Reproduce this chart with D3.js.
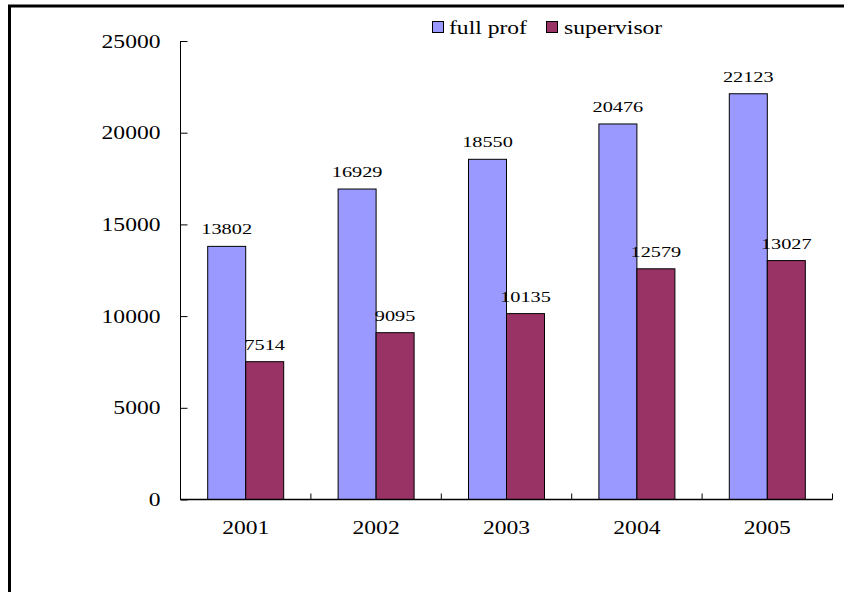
<!DOCTYPE html>
<html>
<head>
<meta charset="utf-8">
<script src="https://cdn.jsdelivr.net/npm/d3@7"></script>
<style>
  html, body { margin: 0; padding: 0; background: #fff; }
  svg { display: block; }
  text { font-family: "Liberation Serif", "Times New Roman", serif; fill: #000; }
</style>
</head>
<body>
<svg id="chart" width="844" height="592"></svg>
<script>
// Data
const years = ["2001", "2002", "2003", "2004", "2005"];
const fullProf = [13802, 16929, 18550, 20476, 22123];
const supervisor = [7514, 9095, 10135, 12579, 13027];
const seriesNames = ["full prof", "supervisor"];
const seriesColors = ["#9999FF", "#993366"];
const yTicks = [0, 5000, 10000, 15000, 20000, 25000];

const svg = d3.select("#chart");
const W = 844, H = 592;
const STRETCH = 1.31; // wide-set lettering

// Place a horizontally widened text at (x, y)
function wideText(sel, x, y, anchor) {
  return sel.attr("x", 0).attr("y", 0)
    .attr("text-anchor", anchor)
    .attr("transform", (d, i) => `translate(${x(d, i)},${y(d, i)}) scale(${STRETCH},1)`);
}

// Outer frame (top and left edges)
svg.append("line").attr("x1", 8).attr("x2", W).attr("y1", 6).attr("y2", 6)
  .attr("stroke", "#000").attr("stroke-width", 3);
svg.append("line").attr("x1", 9.5).attr("x2", 9.5).attr("y1", 5).attr("y2", H)
  .attr("stroke", "#000").attr("stroke-width", 3);

const plot = { left: 180.5, right: 832.5, top: 41, bottom: 499.5 };

const x = d3.scaleBand().domain(years).range([plot.left, plot.right]).paddingInner(0).paddingOuter(0);
const y = d3.scaleLinear().domain([0, 25000]).range([plot.bottom, plot.top]);

const barW = 38;
const rows = years.map((yr, i) => ({ year: yr, values: [fullProf[i], supervisor[i]] }));

// Bars
const groups = svg.append("g").selectAll("g").data(rows).join("g");
groups.selectAll("rect")
  .data(d => d.values.map((v, s) => ({ year: d.year, v, s })))
  .join("rect")
  .attr("x", d => x(d.year) + x.bandwidth() / 2 - barW + d.s * barW)
  .attr("y", d => y(d.v))
  .attr("width", barW)
  .attr("height", d => y(0) - y(d.v))
  .attr("fill", d => seriesColors[d.s])
  .attr("stroke", "#000")
  .attr("stroke-width", 1);

// Value labels
groups.selectAll("text")
  .data(d => d.values.map((v, s) => ({ year: d.year, v, s })))
  .join("text")
  .attr("font-size", "15.5px")
  .text(d => d.v)
  .call(wideText,
    d => x(d.year) + x.bandwidth() / 2 - barW / 2 + d.s * barW,
    d => y(d.v) - 12,
    "middle");

// Y axis: ticks point inward
const yAxis = d3.axisLeft(y).tickValues(yTicks).tickSize(-7).tickFormat(() => "");
const gy = svg.append("g").attr("transform", `translate(${plot.left},0)`).call(yAxis);
gy.select(".domain").attr("d", `M0,${y(25000)}V${y(0)}`).attr("stroke", "#000");
gy.selectAll(".tick line").attr("stroke", "#000");
svg.append("g").selectAll("text").data(yTicks).join("text")
  .attr("font-size", "18px")
  .text(d3.format("d"))
  .call(wideText, () => plot.left - 20, d => y(d) + 6.5, "end");

// X axis: category dividers point upward
svg.append("line").attr("x1", plot.left).attr("x2", plot.right)
  .attr("y1", y(0)).attr("y2", y(0)).attr("stroke", "#000").attr("stroke-width", 1.5);
const dividers = years.map(yr => x(yr)).concat([plot.right]);
svg.append("g").selectAll("line").data(dividers).join("line")
  .attr("x1", d => d).attr("x2", d => d)
  .attr("y1", y(0)).attr("y2", y(0) - 6)
  .attr("stroke", "#000");
svg.append("g").selectAll("text").data(years).join("text")
  .attr("font-size", "18px")
  .text(d => d)
  .call(wideText, d => x(d) + x.bandwidth() / 2, () => y(0) + 34, "middle");

// Legend
const legendPos = [{ x: 432, tx: 449 }, { x: 546, tx: 564 }];
const lg = svg.append("g");
seriesNames.forEach((name, i) => {
  lg.append("rect").attr("x", legendPos[i].x + 0.5).attr("y", 21.5)
    .attr("width", 11).attr("height", 11)
    .attr("fill", seriesColors[i]).attr("stroke", "#000");
  lg.append("text").datum(name)
    .attr("font-size", "18px")
    .text(name)
    .call(wideText, () => legendPos[i].tx, () => 34, "start");
});
</script>
</body>
</html>
